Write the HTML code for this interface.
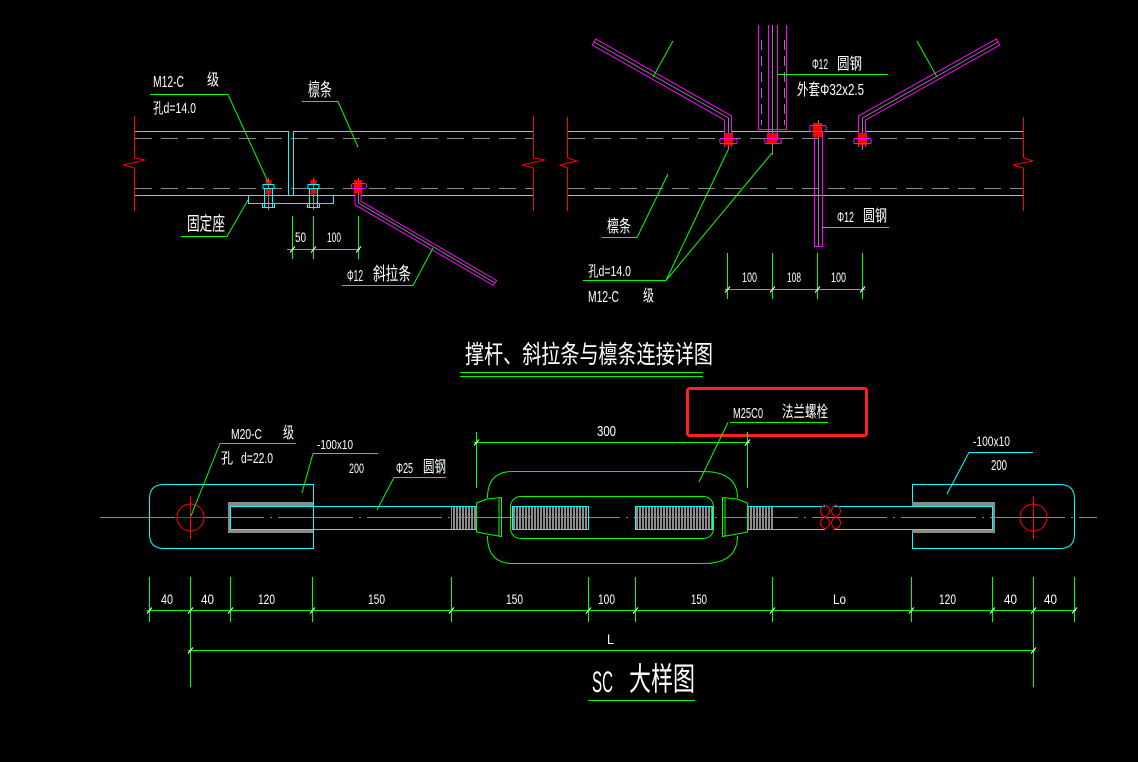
<!DOCTYPE html>
<html><head><meta charset="utf-8"><style>
html,body{margin:0;padding:0;background:#000;}
svg{display:block}
text{font-family:"Liberation Sans","Noto Sans CJK SC",sans-serif;fill:#fff}
</style></head><body>
<svg width="1138" height="762" viewBox="0 0 1138 762" xmlns="http://www.w3.org/2000/svg">
<defs>
<pattern id="th" width="3" height="6" patternUnits="userSpaceOnUse"><rect width="3" height="6" fill="#000"/><rect x="0" width="2" height="6" fill="#8c8c8c"/></pattern>
<g id="cb">
<line x1="0.5" y1="178" x2="0.5" y2="210" stroke="#888"/>
<rect x="-2.5" y="180" width="6" height="4" fill="#f00"/>
<rect x="-5" y="184.5" width="11" height="4" fill="none" stroke="#0ff"/>
<rect x="-2.5" y="189" width="6" height="5" fill="#f00"/>
<path d="M-3.5,189V207 M4.5,189V207" stroke="#0ff" fill="none"/>
<rect x="-5.5" y="203.5" width="12" height="4" fill="none" stroke="#0ff"/>
</g>
<g id="tk"><line x1="-2.5" y1="3" x2="2.5" y2="-3" stroke="#fff" stroke-width="1"/></g>
</defs>
<rect width="1138" height="762" fill="#000"/>

<!-- ================= TOP LEFT ================= -->
<g fill="none" stroke-width="1">
<polyline stroke="#f00" points="134.5,116 134.5,158 145,160 123,165 134.5,168 134.5,211"/>
<polyline stroke="#f00" points="533.5,116 533.5,158 545,160 522,165 533.5,168 533.5,211"/>
<path stroke="#888" stroke-dasharray="17 9" d="M135,138.5H533 M135,188.5H533"/>
<path stroke="#0ff" d="M135,131.5H288.5V195 M293.5,195V131.5H533 M135,195.5H533 M248.5,195.5V203.5H333.5V195.5"/>
</g>
<use href="#cb" x="268"/>
<use href="#cb" x="313"/>
<!-- pink bolt + tie -->
<path d="M358,188 V203 L495,283" stroke="#f0f" stroke-width="7" fill="none" stroke-linejoin="miter"/>
<path d="M358,187 V203 L495,283" stroke="#000" stroke-width="5" fill="none" stroke-linejoin="miter"/>
<path d="M358.5,178 V203 L495,283" stroke="#888" stroke-width="1" fill="none"/>
<line x1="493" y1="286" x2="497" y2="280" stroke="#f0f"/>
<rect x="354" y="180" width="8" height="13" fill="#f00"/>
<rect x="351.5" y="183.5" width="15" height="5" rx="2" fill="none" stroke="#f0f"/>
<!-- leaders -->
<g stroke="#0f0" fill="none">
<path d="M150,94.5H228L268,182"/>
<path d="M302,101.5H338L358,147"/>
<path d="M181,236.5H227L248,200"/>
<path d="M342,285.5H413L433,248"/>
<path d="M292.5,216V259 M313.5,216V259 M358.5,216V259 M287,249.5H360"/>
</g>
<use href="#tk" x="292.5" y="249.5"/><use href="#tk" x="313.5" y="249.5"/><use href="#tk" x="358.5" y="249.5"/>
<text x="153" y="87" font-size="16" textLength="31" lengthAdjust="spacingAndGlyphs">M12-C</text>
<text x="207" y="85" font-size="16" textLength="12" lengthAdjust="spacingAndGlyphs">级</text>
<text x="153" y="113" font-size="15" textLength="43" lengthAdjust="spacingAndGlyphs">孔d=14.0</text>
<text x="308" y="96" font-size="18" textLength="24" lengthAdjust="spacingAndGlyphs">檩条</text>
<text x="187" y="230" font-size="19" textLength="38" lengthAdjust="spacingAndGlyphs">固定座</text>
<text x="295" y="242" font-size="14" textLength="11" lengthAdjust="spacingAndGlyphs">50</text>
<text x="327" y="242" font-size="14" textLength="14" lengthAdjust="spacingAndGlyphs">100</text>
<text x="347" y="281" font-size="16" textLength="16" lengthAdjust="spacingAndGlyphs">Φ12</text>
<text x="373" y="280" font-size="18" textLength="38" lengthAdjust="spacingAndGlyphs">斜拉条</text>

<!-- ================= TOP RIGHT ================= -->
<g fill="none" stroke-width="1">
<polyline stroke="#f00" points="567.5,117 567.5,158 577,161 560,165 567.5,168 567.5,211"/>
<polyline stroke="#f00" points="1023.5,117 1023.5,158 1033,161 1013,165 1023.5,168 1023.5,211"/>
<path stroke="#888" stroke-dasharray="17 9" d="M568,138.5H1023 M568,188.5H1023"/>
<path stroke="#0ff" d="M568,131.5H1023 M568,195.5H1023"/>
</g>
<!-- strut -->
<g fill="none">
<path stroke="#888" stroke-dasharray="10 6" d="M761.5,40V125 M784.5,40V125"/>
<line stroke="#888" x1="772.5" y1="25" x2="772.5" y2="155"/>
<path stroke="#f0f" d="M758.5,25V129.5H786.5V25 M768.5,25V140 M777.5,25V140"/>
</g>
<!-- diagonals -->
<path d="M728,147 V118 L594,42" stroke="#f0f" stroke-width="8" fill="none" stroke-linejoin="miter"/>
<path d="M728,148 V118 L594,42" stroke="#000" stroke-width="6" fill="none" stroke-linejoin="miter"/>
<path d="M728.5,150 V118 L594,42" stroke="#888" fill="none"/>
<line x1="592" y1="45.5" x2="596" y2="38.5" stroke="#f0f"/>
<path d="M862,147 V118 L998,42" stroke="#f0f" stroke-width="8" fill="none" stroke-linejoin="miter"/>
<path d="M862,148 V118 L998,42" stroke="#000" stroke-width="6" fill="none" stroke-linejoin="miter"/>
<path d="M862.5,150 V118 L998,42" stroke="#888" fill="none"/>
<line x1="996" y1="38.5" x2="1000" y2="45.5" stroke="#f0f"/>
<!-- bolts -->
<rect x="724" y="133" width="9" height="12" fill="#f00"/>
<path d="M720.5,138.5 H736.5 Q738,141 736.5,143.5 H720.5 Q719,141 720.5,138.5Z" fill="none" stroke="#f0f"/>
<rect x="858" y="133" width="9" height="12" fill="#f00"/>
<path d="M854.5,138.5 H870.5 Q872,141 870.5,143.5 H854.5 Q853,141 854.5,138.5Z" fill="none" stroke="#f0f"/>
<rect x="767" y="133" width="10" height="10" fill="#f00"/>
<path d="M765.5,138.5 H780.5 Q782,141 780.5,143.5 H765.5 Q764,141 765.5,138.5Z" fill="none" stroke="#f0f"/>
<!-- vertical rod 817 -->
<path d="M814.5,131V246.5H822.5V131" stroke="#f0f" fill="none"/>
<line x1="818.5" y1="120" x2="818.5" y2="246" stroke="#888"/>
<rect x="813" y="123" width="9" height="14" fill="#f00"/>
<path d="M810.5,125.5 H825.5 Q827,128 825.5,131.5 H810.5 Q809,128 810.5,125.5Z" fill="none" stroke="#f0f"/>
<!-- leaders -->
<g stroke="#0f0" fill="none">
<path d="M673,41L653,77"/>
<path d="M917,41L937,77"/>
<path d="M777,74.5H888"/>
<path d="M822,227.5H889"/>
<path d="M602,237.5H637L668,174"/>
<path d="M583,280.5H666L728,150 M666,280.5L772,153"/>
<path d="M727.5,253V299 M772.5,253V299 M817.5,253V299 M862.5,253V299 M725,289.5H865"/>
</g>
<use href="#tk" x="727.5" y="289.5"/><use href="#tk" x="772.5" y="289.5"/><use href="#tk" x="817.5" y="289.5"/><use href="#tk" x="862.5" y="289.5"/>
<text x="812" y="69" font-size="15" textLength="16" lengthAdjust="spacingAndGlyphs">Φ12</text>
<text x="837" y="69" font-size="16" textLength="25" lengthAdjust="spacingAndGlyphs">圆钢</text>
<text x="797" y="95" font-size="16" textLength="67" lengthAdjust="spacingAndGlyphs">外套Φ32x2.5</text>
<text x="837" y="222" font-size="15" textLength="17" lengthAdjust="spacingAndGlyphs">Φ12</text>
<text x="863" y="221" font-size="16" textLength="24" lengthAdjust="spacingAndGlyphs">圆钢</text>
<text x="607" y="232" font-size="17" textLength="24" lengthAdjust="spacingAndGlyphs">檩条</text>
<text x="588" y="276" font-size="15" textLength="43" lengthAdjust="spacingAndGlyphs">孔d=14.0</text>
<text x="588" y="302" font-size="16" textLength="31" lengthAdjust="spacingAndGlyphs">M12-C</text>
<text x="643" y="301" font-size="16" textLength="11" lengthAdjust="spacingAndGlyphs">级</text>
<text x="742" y="282" font-size="14" textLength="15" lengthAdjust="spacingAndGlyphs">100</text>
<text x="787" y="282" font-size="14" textLength="14" lengthAdjust="spacingAndGlyphs">108</text>
<text x="831" y="282" font-size="14" textLength="15" lengthAdjust="spacingAndGlyphs">100</text>

<!-- ================= TITLE ================= -->
<text x="465" y="363" font-size="25" textLength="248" lengthAdjust="spacingAndGlyphs" style='font-family:"Noto Sans CJK SC",sans-serif'>撑杆、斜拉条与檩条连接详图</text>
<path d="M460,372.5H703 M460,376.5H703" stroke="#0f0" fill="none"/>

<!-- ================= BOTTOM SC ================= -->
<!-- red highlight box -->
<rect x="687.5" y="388.5" width="179" height="47" rx="2" fill="none" stroke="#ff2020" stroke-width="3"/>
<!-- plates -->
<path d="M313.5,484.5 H164 Q149.5,484.5 149.5,499 V534 Q149.5,548.5 164,548.5 H313.5 Z" fill="none" stroke="#0ff"/>
<path d="M912.5,484.5 H1060 Q1074.5,484.5 1074.5,499 V534 Q1074.5,548.5 1060,548.5 H912.5 Z" fill="none" stroke="#0ff"/>
<!-- welds -->
<rect x="228" y="502" width="85" height="31" fill="#8a8a8a"/>
<rect x="231" y="507" width="82" height="22" fill="#000"/>
<rect x="912" y="502" width="83" height="31" fill="#8a8a8a"/>
<rect x="912" y="507" width="80" height="22" fill="#000"/>
<!-- threads -->
<rect x="451" y="506" width="25" height="23" fill="url(#th)"/>
<rect x="512" y="506" width="76" height="23" fill="url(#th)"/>
<rect x="635" y="506" width="77" height="23" fill="url(#th)"/>
<rect x="747" y="506" width="26" height="23" fill="url(#th)"/>
<!-- center line -->
<line x1="100" y1="517.5" x2="1097" y2="517.5" stroke="#888" stroke-dasharray="75 6 2 6"/>
<!-- rod -->
<g stroke="#0ff" fill="none">
<path d="M230.5,506.5H476 M230.5,529.5H476 M230.5,506.5V529.5"/>
<path d="M512.5,506.5H588.5V529.5H512.5Z M635.5,506.5H712.5V529.5H635.5Z"/>
<path d="M747,506.5H825 M747,529.5H825 M834,506.5H992.5V529.5H834"/>
</g>
<!-- break -->
<g stroke="#f00" fill="none">
<path d="M825,505 C819,508 819,514 825,517 C831,520 831,526 825,529 M825,505 C831,508 831,514 825,517 C819,520 819,526 825,529"/>
<path d="M836,505 C830,508 830,514 836,517 C842,520 842,526 836,529 M836,505 C842,508 842,514 836,517 C830,520 830,526 836,529"/>
</g>
<!-- holes -->
<g stroke="#f00" fill="none">
<circle cx="190.5" cy="517.5" r="13.5"/>
<path d="M190.5,496V539 M176,517.5H204"/>
<circle cx="1033.5" cy="517.5" r="13.5"/>
<path d="M1033.5,496V539"/>
</g>
<!-- turnbuckle -->
<g stroke="#0f0" fill="none">
<path d="M513,471.5 H703 Q737.5,471.5 737.5,498 M737.5,536 Q737.5,563.5 703,563.5 H513 Q487.5,563.5 487.5,536 M487.5,498 Q487.5,471.5 513,471.5"/>
<path d="M476.5,503 L487,499 L501.5,497.5 V536.5 L487,534 L476.5,532 Z M499,498.5 V535.5"/>
<path d="M747.5,503 L737,499 L722.5,497.5 V536.5 L737,534 L747.5,532 Z M725,498.5 V535.5"/>
<rect x="510.5" y="496.5" width="203" height="42" rx="10"/>
</g>
<!-- leaders bottom -->
<g stroke="#0f0" fill="none">
<path d="M220,443.5H296 M220,443.5L191,516"/>
<path d="M313,453.5H378 M313,453.5L302,493"/>
<path d="M394,477.5H446 M394,477.5L377,510"/>
<path d="M730,422.5H828 M728,422.5L699,482"/>
<path d="M476.5,432V488 M747.5,432V488 M474,442.5H750"/>
</g>
<path d="M969,452.5H1033 M969,452.5L947,494" stroke="#0ff" fill="none"/>
<use href="#tk" x="476.5" y="442.5"/><use href="#tk" x="747.5" y="442.5"/>
<text x="231" y="439" font-size="15" textLength="31" lengthAdjust="spacingAndGlyphs">M20-C</text>
<text x="283" y="438" font-size="16" textLength="11" lengthAdjust="spacingAndGlyphs">级</text>
<text x="221" y="463" font-size="15" textLength="12" lengthAdjust="spacingAndGlyphs">孔</text>
<text x="241" y="463" font-size="15" textLength="32" lengthAdjust="spacingAndGlyphs">d=22.0</text>
<text x="317" y="449" font-size="13" textLength="36" lengthAdjust="spacingAndGlyphs">-100x10</text>
<text x="349" y="473" font-size="14" textLength="15" lengthAdjust="spacingAndGlyphs">200</text>
<text x="396" y="473" font-size="15" textLength="17" lengthAdjust="spacingAndGlyphs">Φ25</text>
<text x="423" y="472" font-size="16" textLength="23" lengthAdjust="spacingAndGlyphs">圆钢</text>
<text x="597" y="436" font-size="15" textLength="19" lengthAdjust="spacingAndGlyphs">300</text>
<text x="733" y="418" font-size="15" textLength="30" lengthAdjust="spacingAndGlyphs">M25C0</text>
<text x="782" y="417" font-size="16" textLength="46" lengthAdjust="spacingAndGlyphs">法兰螺栓</text>
<text x="973" y="446" font-size="14" textLength="37" lengthAdjust="spacingAndGlyphs">-100x10</text>
<text x="991" y="470" font-size="15" textLength="16" lengthAdjust="spacingAndGlyphs">200</text>

<!-- dimension rows -->
<g stroke="#0f0" fill="none">
<path d="M149.5,577V622 M230.5,577V622 M312.5,577V622 M451.5,577V622 M588.5,577V622 M635.5,577V622 M772.5,577V622 M911.5,577V622 M992.5,577V622 M1074.5,577V622"/>
<path d="M190.5,577V687 M1033.5,577V687"/>
<path d="M147,610.5H1076"/>
<path d="M188,650.5H1035"/>
<path d="M588,700.5H695"/>
</g>
<use href="#tk" x="149.5" y="610.5"/><use href="#tk" x="190.5" y="610.5"/><use href="#tk" x="230.5" y="610.5"/><use href="#tk" x="312.5" y="610.5"/><use href="#tk" x="451.5" y="610.5"/><use href="#tk" x="588.5" y="610.5"/><use href="#tk" x="635.5" y="610.5"/><use href="#tk" x="772.5" y="610.5"/><use href="#tk" x="911.5" y="610.5"/><use href="#tk" x="992.5" y="610.5"/><use href="#tk" x="1033.5" y="610.5"/><use href="#tk" x="1074.5" y="610.5"/>
<use href="#tk" x="190.5" y="650.5"/><use href="#tk" x="1033.5" y="650.5"/>
<g font-size="14">
<text x="161" y="604" textLength="12" lengthAdjust="spacingAndGlyphs">40</text>
<text x="201" y="604" textLength="13" lengthAdjust="spacingAndGlyphs">40</text>
<text x="258" y="604" textLength="17" lengthAdjust="spacingAndGlyphs">120</text>
<text x="368" y="604" textLength="17" lengthAdjust="spacingAndGlyphs">150</text>
<text x="506" y="604" textLength="17" lengthAdjust="spacingAndGlyphs">150</text>
<text x="598" y="604" textLength="17" lengthAdjust="spacingAndGlyphs">100</text>
<text x="691" y="604" textLength="16" lengthAdjust="spacingAndGlyphs">150</text>
<text x="833" y="604" textLength="13" lengthAdjust="spacingAndGlyphs">Lo</text>
<text x="939" y="604" textLength="17" lengthAdjust="spacingAndGlyphs">120</text>
<text x="1004" y="604" textLength="13" lengthAdjust="spacingAndGlyphs">40</text>
<text x="1044" y="604" textLength="13" lengthAdjust="spacingAndGlyphs">40</text>
<text x="607" y="644" textLength="7" lengthAdjust="spacingAndGlyphs">L</text>
</g>
<text x="592" y="692" font-size="30" textLength="21" lengthAdjust="spacingAndGlyphs">SC</text>
<text x="629" y="690" font-size="32" textLength="66" lengthAdjust="spacingAndGlyphs" style='font-family:"Noto Sans CJK SC",sans-serif'>大样图</text>
</svg>
</body></html>
